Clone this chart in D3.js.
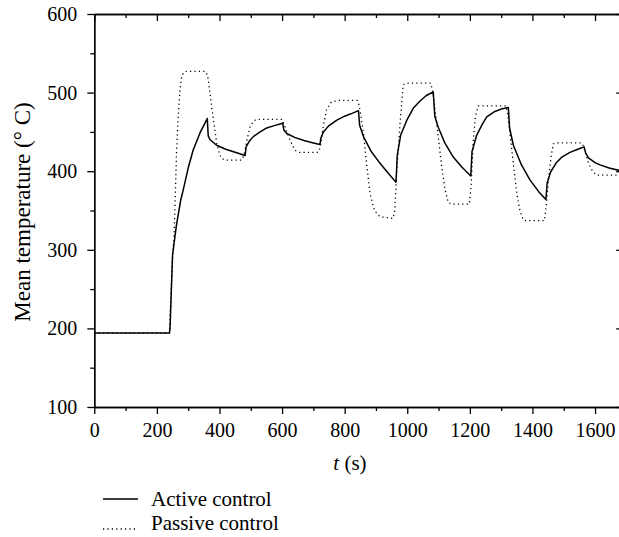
<!DOCTYPE html>
<html>
<head>
<meta charset="utf-8">
<script src="https://cdn.jsdelivr.net/npm/d3@7"></script>
<style>
  body { margin: 0; background: #fff; }
  svg { display: block; font-family: "Liberation Serif", "DejaVu Serif", serif; }
</style>
</head>
<body>
<div id="chart"></div>
<script>
// Chart data
const xTicks = [0, 200, 400, 600, 800, 1000, 1200, 1400, 1600];
const yTicks = [100, 200, 300, 400, 500, 600];

// Active control: [time (s), mean temperature (°C)]
const activeSeries = [
    [0, 194], [240, 194], [242, 200], [250, 293], [262, 330], [276, 363], [284, 376],
    [300, 404], [316, 427], [338, 449], [361, 467], [364, 445], [370, 440], [391, 433],
    [420, 428], [450, 424], [482, 420], [485, 431], [495, 438], [508, 444], [530, 450],
    [551, 455], [575, 458], [602, 461], [606, 452], [615, 448], [640, 443], [670, 439],
    [700, 436], [721, 434], [724, 442], [732, 450], [750, 458], [775, 465], [800, 470],
    [820, 473], [844, 477], [848, 458], [860, 444], [885, 425], [913, 410], [940, 397],
    [964, 386], [968, 420], [979, 446], [1000, 466], [1019, 480], [1040, 489], [1060, 496],
    [1083, 501], [1088, 470], [1099, 456], [1120, 436], [1147, 418], [1175, 405], [1203, 394],
    [1207, 425], [1222, 446], [1240, 460], [1254, 469], [1280, 476], [1300, 479], [1323, 481],
    [1327, 455], [1339, 433], [1365, 408], [1392, 389], [1420, 374], [1443, 364], [1447, 385],
    [1458, 399], [1475, 410], [1494, 418], [1520, 424], [1545, 428], [1565, 431], [1570, 423],
    [1579, 417], [1600, 411], [1616, 408], [1645, 404], [1677, 401], [1690, 400]
];

// Passive control: [time (s), mean temperature (°C)]
const passiveSeries = [
    [0, 194], [240, 194], [250, 290], [255, 320], [258, 357], [263, 427], [268, 469],
    [274, 505], [279, 520], [286, 526], [295, 527], [355, 527], [362, 522], [368, 505],
    [375, 482], [391, 436], [400, 422], [407, 416], [420, 414], [470, 414], [478, 420],
    [488, 440], [498, 457], [510, 464], [519, 466], [600, 466], [606, 460], [615, 450],
    [625, 440], [640, 427], [655, 424], [715, 424], [722, 430], [732, 458], [742, 478],
    [755, 487], [775, 490], [840, 490], [846, 484], [852, 470], [860, 448], [870, 410],
    [881, 372], [895, 350], [913, 342], [955, 340], [960, 350], [966, 397], [977, 461],
    [987, 510], [1000, 512], [1075, 512], [1082, 500], [1094, 461], [1110, 406], [1120, 378],
    [1131, 360], [1145, 358], [1198, 358], [1204, 380], [1211, 440], [1218, 470], [1227, 483],
    [1316, 483], [1322, 470], [1334, 427], [1350, 372], [1360, 350], [1371, 338], [1380, 337],
    [1438, 337], [1444, 355], [1451, 389], [1460, 420], [1467, 435], [1480, 436], [1558, 436],
    [1565, 430], [1579, 410], [1592, 400], [1605, 395], [1690, 395]
];

const legendLabels = ["Active control", "Passive control"];

// Canvas
const width = 619;
const height = 537;
const plot = { left: 94.3, right: 623.2, top: 14, bottom: 407 };

const svg = d3.select("#chart")
    .append("svg")
    .attr("width", width)
    .attr("height", height);

// Scales
const x = d3.scaleLinear().domain([0, 1690]).range([plot.left, plot.right]);
const y = d3.scaleLinear().domain([100, 600]).range([plot.bottom, plot.top]);

const minorX = d3.range(100, 1690, 200);
const minorY = d3.range(150, 600, 100);

// Helper to style an axis group
function styleAxis(g) {
    g.selectAll("path.domain").attr("stroke", "#000").attr("stroke-width", 1.3);
    g.selectAll(".tick line").attr("stroke", "#000").attr("stroke-width", 1.3);
    g.selectAll(".tick text").attr("fill", "#000").style("font-size", "20px")
        .style("font-family", "'Liberation Serif', serif");
}

// Bottom axis (outward ticks, labelled)
svg.append("g")
    .attr("transform", `translate(0,${plot.bottom})`)
    .call(d3.axisBottom(x).tickValues(xTicks).tickSize(7).tickSizeOuter(0).tickPadding(9).tickFormat(d3.format("d")))
    .call(styleAxis);
svg.append("g")
    .attr("transform", `translate(0,${plot.bottom})`)
    .call(d3.axisBottom(x).tickValues(minorX).tickSize(4).tickSizeOuter(0).tickFormat(""))
    .call(styleAxis);

// Top axis (inward ticks)
svg.append("g")
    .attr("transform", `translate(0,${plot.top})`)
    .call(d3.axisTop(x).tickValues(xTicks).tickSize(-7).tickSizeOuter(0).tickFormat(""))
    .call(styleAxis);
svg.append("g")
    .attr("transform", `translate(0,${plot.top})`)
    .call(d3.axisTop(x).tickValues(minorX).tickSize(-4).tickSizeOuter(0).tickFormat(""))
    .call(styleAxis);

// Left axis (outward ticks, labelled)
svg.append("g")
    .attr("transform", `translate(${plot.left},0)`)
    .call(d3.axisLeft(y).tickValues(yTicks).tickSize(7).tickSizeOuter(0).tickPadding(10).tickFormat(d3.format("d")))
    .call(styleAxis);
svg.append("g")
    .attr("transform", `translate(${plot.left},0)`)
    .call(d3.axisLeft(y).tickValues(minorY).tickSize(4).tickSizeOuter(0).tickFormat(""))
    .call(styleAxis);

// Right axis (inward ticks, mostly off-canvas)
svg.append("g")
    .attr("transform", `translate(${plot.right},0)`)
    .call(d3.axisRight(y).tickValues(yTicks).tickSize(-7).tickSizeOuter(0).tickFormat(""))
    .call(styleAxis);

// Lines
const line = d3.line()
    .x(d => x(d[0]))
    .y(d => y(d[1]));

svg.append("path")
    .datum(passiveSeries)
    .attr("fill", "none")
    .attr("stroke", "#000")
    .attr("stroke-width", 1.3)
    .attr("stroke-dasharray", "1.2,3.2")
    .attr("d", line);

svg.append("path")
    .datum(activeSeries)
    .attr("fill", "none")
    .attr("stroke", "#000")
    .attr("stroke-width", 1.5)
    .attr("stroke-linejoin", "round")
    .attr("d", line);

// Axis titles
svg.append("text")
    .attr("transform", `translate(30,212) rotate(-90)`)
    .attr("text-anchor", "middle")
    .style("font-size", "23px")
    .text("Mean temperature (° C)");

const xTitle = svg.append("text")
    .attr("x", 350)
    .attr("y", 470)
    .attr("text-anchor", "middle")
    .style("font-size", "21px");
xTitle.append("tspan").style("font-style", "italic").text("t");
xTitle.append("tspan").text(" (s)");

// Legend
const legend = svg.append("g").attr("transform", "translate(103,0)");
legendLabels.forEach((label, i) => {
    const yy = 499 + i * 24;
    legend.append("line")
        .attr("x1", 0).attr("x2", 35)
        .attr("y1", i === 0 ? yy : yy + 6).attr("y2", i === 0 ? yy : yy + 6)
        .attr("stroke", "#000")
        .attr("stroke-width", i === 0 ? 1.5 : 1.3)
        .attr("stroke-dasharray", i === 0 ? null : "1.2,3.2");
    legend.append("text")
        .attr("x", 48)
        .attr("y", yy + 7)
        .style("font-size", "21px")
        .text(label);
});
</script>
</body>
</html>
